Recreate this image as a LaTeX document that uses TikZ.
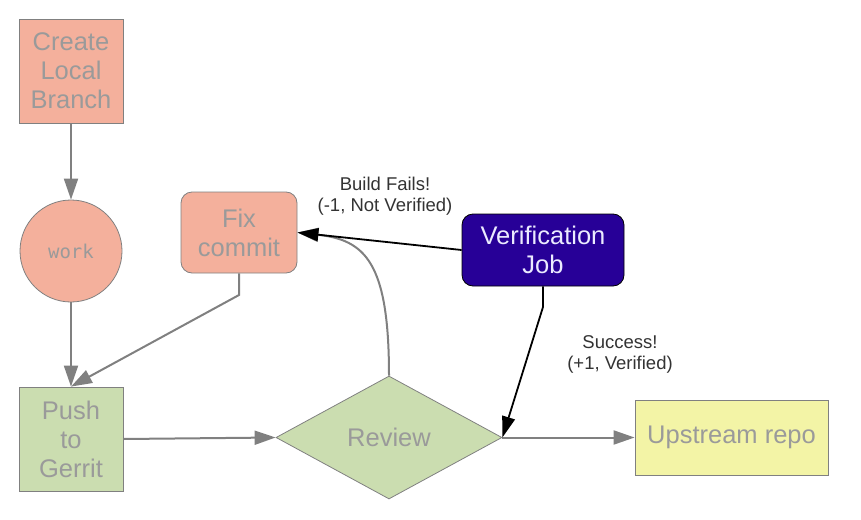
\documentclass[tikz,border=0pt]{standalone}
\usepackage{fontspec}
\setmainfont{Liberation Sans}
\newfontfamily\codefont{DejaVu Sans Mono}
\usetikzlibrary{shapes.geometric,arrows.meta}
\definecolor{salmon}{HTML}{F4B09C}
\definecolor{sage}{HTML}{CBDDB0}
\definecolor{paleyellow}{HTML}{F3F4A6}
\definecolor{deeppurple}{HTML}{270097}
\definecolor{txtgray}{HTML}{9A9A9A}
\definecolor{edgegray}{HTML}{808080}
\definecolor{lbl}{HTML}{333333}
\tikzset{
  box/.style={draw=edgegray, line width=0.8pt, text=txtgray, align=center, inner sep=0pt,
    font=\fontsize{25.5}{29}\selectfont},
  garrow/.style={draw=edgegray, line width=2pt, -{Triangle[length=21pt,width=14pt]}},
  barrow/.style={draw=black, line width=1.8pt, -{Triangle[length=21pt,width=13pt]}},
  lbltext/.style={text=lbl, align=center, font=\fontsize{18.5}{21}\selectfont}
}
\begin{document}
\begin{tikzpicture}[x=1pt,y=-1pt]
\useasboundingbox (0,0) rectangle (861,519);
\node[box, fill=salmon, minimum width=104pt, minimum height=104pt] (create) at (71,71) {Create\\Local\\Branch};
\node[box, fill=salmon, circle, minimum size=102pt, font=\codefont\fontsize{19}{22}\selectfont] (work) at (71,251) {work};
\node[box, fill=salmon, rounded corners=11pt, minimum width=116pt, minimum height=81pt] (fix) at (239,232.5) {Fix\\commit};
\node[box, fill=sage, minimum width=104pt, minimum height=104pt] (push) at (71,439) {Push\\to\\Gerrit};
\node[box, fill=sage, diamond, minimum width=226pt, minimum height=123pt] (review) at (389,437.5) {Review};
\node[box, draw=black, fill=deeppurple, text=white!92!blue, rounded corners=11pt, minimum width=162pt, minimum height=72pt] (verify) at (543,250) {Verification\\Job};
\node[box, fill=paleyellow, minimum width=193pt, minimum height=75pt] (upstream) at (731.5,437.5) {Upstream repo};

\coordinate (fixbend) at (239,295);
\coordinate (verbend) at (543,307);

\draw[garrow] (create.south) -- (work.north);
\draw[garrow] (work.south) -- (push.north);
\draw[garrow] (fix.south) -- (fixbend) -- (push.north);
\draw[garrow] (push.east) -- (review.west);
\draw[garrow] (review.east) -- (upstream.west);
\draw[garrow] (review.north) .. controls (389,262) and (365,240) .. (fix.east);
\draw[barrow] (verify.west) -- (fix.east);
\draw[barrow] (verify.south) -- (verbend) -- (review.east);

\node[lbltext] (failtext) at (385,196) {Build Fails!\\(-1, Not Verified)};
\node[lbltext] (oktext) at (620,354) {Success!\\(+1, Verified)};
\end{tikzpicture}
\end{document}
